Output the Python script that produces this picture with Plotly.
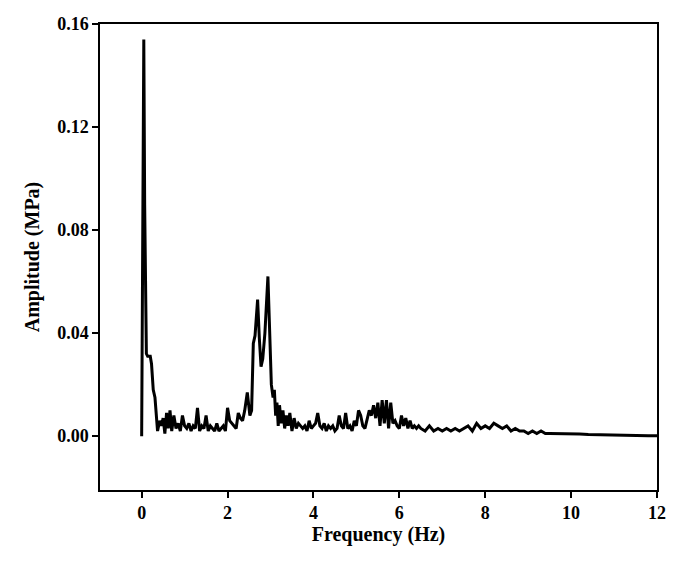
import plotly.graph_objects as go

points = [
 (0.00,0.000),(0.02,0.060),(0.05,0.154),(0.07,0.090),(0.09,0.040),(0.11,0.032),(0.14,0.031),(0.20,0.031),(0.23,0.028),
 (0.27,0.018),(0.31,0.015),(0.34,0.008),(0.37,0.002),(0.42,0.006),(0.46,0.004),(0.50,0.007),(0.54,0.001),(0.58,0.009),
 (0.62,0.003),(0.66,0.010),(0.70,0.002),(0.75,0.008),(0.80,0.003),(0.85,0.005),(0.90,0.002),(0.95,0.008),(1.00,0.004),
 (1.05,0.003),(1.10,0.005),(1.15,0.002),(1.20,0.004),(1.25,0.003),(1.30,0.011),(1.35,0.002),(1.40,0.004),(1.45,0.003),
 (1.50,0.008),(1.55,0.002),(1.60,0.004),(1.65,0.003),(1.70,0.002),(1.75,0.005),(1.80,0.002),(1.85,0.003),(1.90,0.004),
 (1.95,0.002),(2.00,0.011),(2.05,0.006),(2.10,0.005),(2.15,0.004),(2.20,0.003),(2.25,0.009),(2.30,0.007),(2.35,0.006),
 (2.40,0.010),(2.46,0.017),(2.52,0.008),(2.56,0.010),(2.60,0.036),(2.64,0.039),(2.70,0.053),(2.74,0.038),(2.78,0.027),
 (2.82,0.030),(2.87,0.040),(2.94,0.062),(2.98,0.040),(3.02,0.020),(3.06,0.015),(3.09,0.018),(3.12,0.008),(3.15,0.013),
 (3.18,0.004),(3.21,0.012),(3.25,0.005),(3.29,0.010),(3.33,0.003),(3.37,0.008),(3.41,0.004),(3.45,0.009),(3.50,0.002),
 (3.55,0.007),(3.60,0.003),(3.65,0.005),(3.70,0.004),(3.75,0.003),(3.80,0.004),(3.85,0.002),(3.90,0.006),(3.95,0.003),
 (4.00,0.004),(4.05,0.005),(4.10,0.009),(4.15,0.004),(4.20,0.003),(4.25,0.005),(4.30,0.002),(4.35,0.004),(4.40,0.003),
 (4.45,0.004),(4.50,0.002),(4.55,0.003),(4.60,0.008),(4.65,0.004),(4.70,0.003),(4.75,0.009),(4.80,0.003),(4.85,0.004),
 (4.90,0.002),(4.95,0.006),(5.00,0.004),(5.05,0.010),(5.10,0.008),(5.15,0.004),(5.20,0.003),(5.25,0.006),(5.30,0.010),
 (5.35,0.008),(5.40,0.012),(5.45,0.007),(5.50,0.013),(5.55,0.004),(5.60,0.014),(5.65,0.005),(5.70,0.014),(5.75,0.003),
 (5.80,0.013),(5.85,0.005),(5.90,0.006),(5.95,0.004),(6.00,0.003),(6.05,0.008),(6.10,0.004),(6.15,0.007),(6.20,0.003),
 (6.25,0.006),(6.30,0.003),(6.35,0.004),(6.40,0.003),(6.45,0.004),(6.50,0.003),(6.60,0.002),(6.70,0.004),(6.80,0.002),
 (6.90,0.003),(7.00,0.002),(7.10,0.003),(7.20,0.002),(7.30,0.003),(7.40,0.002),(7.50,0.003),(7.60,0.004),(7.70,0.002),
 (7.80,0.005),(7.90,0.003),(8.00,0.004),(8.10,0.003),(8.20,0.005),(8.30,0.004),(8.40,0.003),(8.50,0.004),(8.60,0.002),
 (8.70,0.003),(8.80,0.002),(8.90,0.002),(9.00,0.001),(9.10,0.002),(9.20,0.001),(9.30,0.002),(9.40,0.001),(9.50,0.001),
 (9.60,0.001),(9.70,0.001),(9.80,0.001),(9.90,0.001),(10.0,0.001),(10.2,0.0008),(10.4,0.0006),(10.6,0.0005),(10.8,0.0004),
 (11.0,0.0003),(11.2,0.0003),(11.4,0.0002),(11.6,0.0002),(11.8,0.0002),(12.0,0.0002)]
freq = [p[0] for p in points]
amp = [p[1] for p in points]
xticks = [0, 2, 4, 6, 8, 10, 12]
yticks = [0.00, 0.04, 0.08, 0.12, 0.16]

fig = go.Figure(go.Scatter(x=freq, y=amp, mode="lines", line=dict(color="black", width=3)))
tf = dict(family="Liberation Serif", size=18, color="black", weight="bold")
ax = dict(showgrid=False, zeroline=False, showline=True, linecolor="black", linewidth=1.5,
          mirror=True, ticks="outside", ticklen=6, tickwidth=1.5, tickcolor="black",
          tickfont=tf, automargin=False)
fig.update_layout(width=700, height=564, margin=dict(l=92, r=51, t=16, b=82),
                  plot_bgcolor="white", paper_bgcolor="white", showlegend=False,
                  xaxis=dict(ax, range=[-0.97, 12], tickvals=xticks,
                             title=dict(text="Frequency (Hz)", font=dict(tf, size=20), standoff=4)),
                  yaxis=dict(ax, range=[-0.0209, 0.16], tickvals=yticks, tickformat=".2f",
                             title=dict(text="Amplitude (MPa)", font=dict(tf, size=20), standoff=12)))
fig.write_html("out.html")
